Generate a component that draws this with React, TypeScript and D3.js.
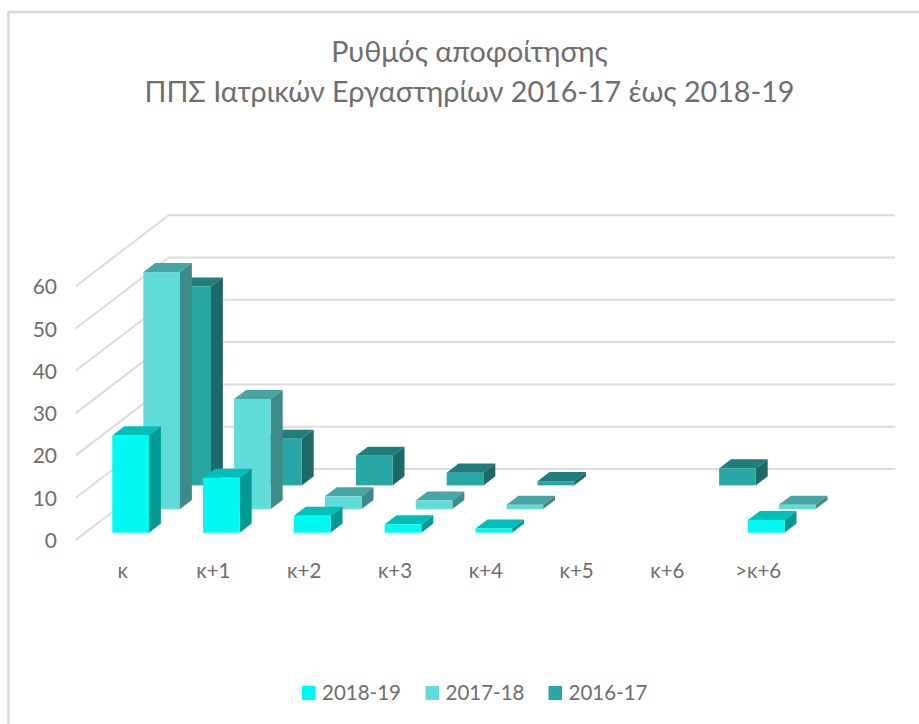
import React from 'react';
import * as d3 from 'd3';

const categories = ['κ', 'κ+1', 'κ+2', 'κ+3', 'κ+4', 'κ+5', 'κ+6', '>κ+6'];
const seriesNames = ['2016-17', '2017-18', '2018-19'];
const values2016 = [47, 11, 7, 3, 1, 0, 4, 0];
const values2017 = [56, 26, 3, 2, 1, 0, 0, 1];
const values2018 = [23, 13, 4, 2, 1, 0, 0, 3];
const yTicks = [0, 10, 20, 30, 40, 50, 60];
const titleLines = ['Ρυθμός αποφοίτησης', 'ΠΠΣ Ιατρικών Εργαστηρίων 2016-17 έως 2018-19'];

const seriesValues = [values2016, values2017, values2018];
const faceColors = [
  { front: '#28a7a5', top: '#1f7e7c', side: '#1b6a68' },
  { front: '#5fdbd8', top: '#47a5a3', side: '#3d8b89' },
  { front: '#00f9f1', top: '#00bfb8', side: '#009a95' },
];
const font = 'Lato, "Open Sans", sans-serif';
const textColor = '#6e6e6e';

const originX = 75.7;
const originY = 540;
const depthX = 93;
const depthY = -71;

const x = d3.scaleBand<string>().domain(categories).range([0, 726.4]).paddingInner(0.596).paddingOuter(0.298);
const y = d3.scaleLinear().domain([0, 60]).range([0, 253.8]);
// series sit along the depth axis, front one last in the list
const z = d3.scaleBand<string>().domain([...seriesNames].reverse()).range([0, 1]).paddingInner(0.616).paddingOuter(0.308);

// oblique projection, no perspective
const px = (cx: number, depth: number) => originX + cx + depth * depthX;
const py = (v: number, depth: number) => originY - y(v) + depth * depthY;
const pts = (list: [number, number][]) => list.map((p) => p.join(',')).join(' ');

const Bar = ({ cat, name, value, colors }: any) => {
  const x0 = x(cat)!;
  const x1 = x0 + x.bandwidth();
  const d0 = z(name)!;
  const d1 = d0 + z.bandwidth();
  return (
    <g>
      <polygon
        points={pts([[px(x0, d0), py(value, d0)], [px(x1, d0), py(value, d0)], [px(x1, d1), py(value, d1)], [px(x0, d1), py(value, d1)]])}
        fill={colors.top}
      />
      <polygon
        points={pts([[px(x1, d0), py(0, d0)], [px(x1, d0), py(value, d0)], [px(x1, d1), py(value, d1)], [px(x1, d1), py(0, d1)]])}
        fill={colors.side}
      />
      <rect x={px(x0, d0)} y={py(value, d0)} width={x.bandwidth()} height={y(value)} fill={colors.front} />
    </g>
  );
};

export default function App() {
  const legendX = [302, 425.5, 548.5];
  const legendOrder = [...seriesNames].reverse();
  return (
    <svg width={919} height={724} style={{ position: 'absolute', left: 0, top: 0, background: '#fff' }}>
      <path d="M8.5 724V12H919" fill="none" stroke="#d9d9d9" strokeWidth={2.5} />
      {titleLines.map((t, i) => (
        <text key={t} x={469.5} y={62 + i * 40} textAnchor="middle" fontFamily={font} fontSize={28.7} fill={textColor}>
          {t}
        </text>
      ))}
      {yTicks.map((t) => (
        <g key={t}>
          <polyline
            points={pts([[px(0, 0), py(t, 0)], [px(0, 1), py(t, 1)], [px(726.4, 1), py(t, 1)]])}
            fill="none"
            stroke="#dcdcdc"
            strokeWidth={2}
          />
          <text x={57} y={py(t, 0) + 8} textAnchor="end" fontFamily={font} fontSize={21} fill={textColor}>
            {t}
          </text>
        </g>
      ))}
      {seriesNames.map((name, s) => (
        <g key={name}>
          {categories.map((cat, i) =>
            seriesValues[s][i] > 0 ? (
              <Bar key={cat} cat={cat} name={name} value={seriesValues[s][i]} colors={faceColors[s]} />
            ) : null
          )}
        </g>
      ))}
      {categories.map((cat) => (
        <text
          key={cat}
          x={px(x(cat)!, 0) + 10.5 + x.bandwidth() / 2 - 9}
          y={578}
          textAnchor="middle"
          fontFamily={font}
          fontSize={20.5}
          fill={textColor}
        >
          {cat}
        </text>
      ))}
      {legendOrder.map((name, i) => (
        <g key={name}>
          <rect x={legendX[i]} y={686} width={13.5} height={14} fill={faceColors[2 - i].front} />
          <text x={legendX[i] + 20} y={700} fontFamily={font} fontSize={20.5} fill={textColor}>
            {name}
          </text>
        </g>
      ))}
    </svg>
  );
}
